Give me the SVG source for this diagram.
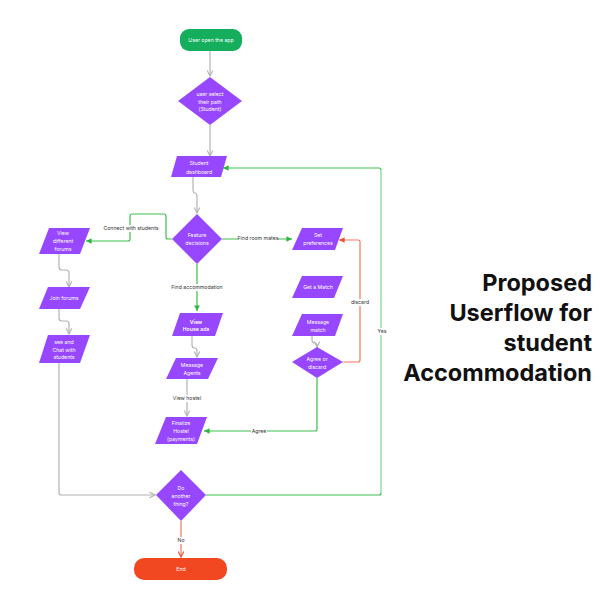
<svg xmlns="http://www.w3.org/2000/svg" width="600" height="600" viewBox="0 0 600 600">
<style>
.n{fill:#9747ff}
.t{font-family:Inter,"Liberation Sans",sans-serif;font-size:5.2px;fill:#ffffff;text-anchor:middle}
.l{font-family:Inter,"Liberation Sans",sans-serif;font-size:5.2px;fill:#333333;text-anchor:middle}
.g{fill:none;stroke:#b3b3b3;stroke-width:1.2}
.gr{fill:none;stroke:#3dbf4a;stroke-width:1.2}
.grl{fill:none;stroke:#7ed889;stroke-width:1.2}
.r{fill:none;stroke:#f2785c;stroke-width:1.2}
.bg{fill:#ffffff}
.title{font-family:Inter,"Liberation Sans",sans-serif;font-size:23.5px;font-weight:700;fill:#111111;text-anchor:end}
</style>
<defs>
<marker id="ag" viewBox="0 0 10 10" refX="9" refY="5" markerWidth="7" markerHeight="7" orient="auto" markerUnits="userSpaceOnUse"><path d="M1,1 L9,5 L1,9" fill="none" stroke="#b3b3b3" stroke-width="1.6"/></marker>
<marker id="agr" viewBox="0 0 10 10" refX="9" refY="5" markerWidth="7" markerHeight="7" orient="auto" markerUnits="userSpaceOnUse"><path d="M1,1 L9,5 L1,9 Z" fill="#2db83d"/></marker>
<marker id="ar" viewBox="0 0 10 10" refX="9" refY="5" markerWidth="7" markerHeight="7" orient="auto" markerUnits="userSpaceOnUse"><path d="M1,1 L9,5 L1,9 Z" fill="#f0502e"/></marker>
<marker id="arc" viewBox="0 0 10 10" refX="9" refY="5" markerWidth="7" markerHeight="7" orient="auto" markerUnits="userSpaceOnUse"><path d="M1,1 L9,5 L1,9" fill="none" stroke="#f0502e" stroke-width="1.6"/></marker>
</defs>

<g id="connectors">
<path class="g" d="M210,51 V76" marker-end="url(#ag)"/>
<path class="g" d="M210,125 V156" marker-end="url(#ag)"/>
<path class="g" d="M193,177 V189 Q193,193 195,193 Q197,193 197,197 V213" marker-end="url(#ag)"/>
<path class="gr" d="M172,239 H168 Q166,239 166,237 V216 Q166,214 164,214 H132 Q130,214 130,216 V239 Q130,241 128,241 H86" marker-end="url(#agr)"/>
<path class="gr" d="M222,239 H292" marker-end="url(#agr)"/>
<path class="gr" d="M197,264 V311" marker-end="url(#agr)"/>
<path class="g" d="M59,254 V267 Q59,270 62,270 H66 Q69,270 69,273 V287" marker-end="url(#ag)"/>
<path class="g" d="M59,309 V318 Q59,321 62,321 H66 Q69,321 69,324 V334" marker-end="url(#ag)"/>
<path class="g" d="M59,363 V493 Q59,495 61,495 H155" marker-end="url(#ag)"/>
<path class="g" d="M192,336 V345 Q192,348 194.5,348 Q197,348 197,351 V357" marker-end="url(#ag)"/>
<path class="g" d="M187,379 V416" marker-end="url(#ag)"/>
<path class="g" d="M312,336 V340 Q312,343 314.5,343 Q317,343 317,346 V347" marker-end="url(#ag)"/>
<path class="gr" d="M317,378 V429 Q317,431 315,431 H204" marker-end="url(#agr)"/>
<path class="r" d="M343,362 H358 Q360,362 360,360 V242 Q360,240 358,240 H339" marker-end="url(#ar)"/>
<path class="gr" d="M206,495 H379 Q381,495 381,493"/>
<path class="grl" d="M381,493 V170"/>
<path class="gr" d="M381,170 Q381,168 379,168 H223" marker-end="url(#agr)"/>
<path class="r" d="M181,521 V557" marker-end="url(#arc)"/>
<rect class="bg" x="105" y="225" width="52" height="7"/>
<text class="l" x="131" y="230">Connect with students</text>
<rect class="bg" x="238" y="235" width="40" height="7"/>
<text class="l" x="258" y="240">Find room mates</text>
<rect class="bg" x="173" y="284" width="48" height="7"/>
<text class="l" x="197" y="289">Find accommodation</text>
<rect class="bg" x="173" y="395" width="28" height="7"/>
<text class="l" x="187" y="400">View hostel</text>
<rect class="bg" x="251" y="428" width="16" height="7"/>
<text class="l" x="259" y="433">Agree</text>
<rect class="bg" x="351" y="299" width="18" height="7"/>
<text class="l" x="360" y="304">discard</text>
<rect class="bg" x="376" y="328" width="11" height="7"/>
<text class="l" x="382" y="333">Yes</text>
<rect class="bg" x="176" y="537" width="10" height="7"/>
<text class="l" x="181" y="542">No</text>
</g>

<g id="start">
<rect x="180" y="29" width="62" height="22" rx="9" fill="#14ae5c"/>
<text class="t" x="211" y="42">User open the app</text>
</g>
<g id="select-path">
<polygon class="n" points="210,77 242,101 210,125 178,101"/>
<text class="t" x="210" y="96">user  select</text>
<text class="t" x="210" y="103.5">their path</text>
<text class="t" x="210" y="111">(Student)</text>
</g>
<g id="student-dashboard">
<polygon class="n" points="177,156 227,156 221,177 171,177"/>
<text class="t" x="199" y="165">Student</text>
<text class="t" x="199" y="174">dashboard</text>
</g>
<g id="feature-decisions">
<polygon class="n" points="197,214 222,239 197,264 172,239"/>
<text class="t" x="197" y="237">Feature</text>
<text class="t" x="197" y="245">decisions</text>
</g>
<g id="view-forums">
<polygon class="n" points="49,228 90,228 80,254 39,254"/>
<text class="t" x="63" y="235">View</text>
<text class="t" x="63" y="243">different</text>
<text class="t" x="63" y="251">forums</text>
</g>
<g id="join-forums">
<polygon class="n" points="48,287 90,287 80,309 39,309"/>
<text class="t" x="64" y="300">Join forums</text>
</g>
<g id="chat-students">
<polygon class="n" points="48,335 90,335 80,363 39,363"/>
<text class="t" x="64" y="344">see and</text>
<text class="t" x="64" y="351.5">Chat with</text>
<text class="t" x="64" y="359">students</text>
</g>
<g id="view-house-ads">
<polygon class="n" points="180,313 223,313 215,336 172,336"/>
<text class="t" x="196" y="324" font-weight="600">View</text>
<text class="t" x="196" y="331" font-weight="600">House ads</text>
</g>
<g id="message-agents">
<polygon class="n" points="176,358 218,358 208,379 166,379"/>
<text class="t" x="192" y="367">Message</text>
<text class="t" x="192" y="375">Agents</text>
</g>
<g id="finalize-hostel">
<polygon class="n" points="166,417 207,417 197,444 155,444"/>
<text class="t" x="181" y="425">Finalize</text>
<text class="t" x="181" y="433">Hostel</text>
<text class="t" x="181" y="440.5">(payments)</text>
</g>
<g id="set-preferences">
<polygon class="n" points="302,228 343,228 335,250 292,250"/>
<text class="t" x="318" y="237">Set</text>
<text class="t" x="318" y="245">preferences</text>
</g>
<g id="get-match">
<polygon class="n" points="302,276 343,276 334,298 292,298"/>
<text class="t" x="318" y="289">Get a Match</text>
</g>
<g id="message-match">
<polygon class="n" points="302,314 343,314 335,336 292,336"/>
<text class="t" x="318" y="324">Message</text>
<text class="t" x="318" y="331.5">match</text>
</g>
<g id="agree-discard">
<polygon class="n" points="317,347 343,362 317,378 292,362"/>
<text class="t" x="317" y="361">Agree or</text>
<text class="t" x="317" y="369">discard</text>
</g>
<g id="another-thing">
<polygon class="n" points="181,470 206,495 181,521 156,495"/>
<text class="t" x="181" y="490">Do</text>
<text class="t" x="181" y="498">another</text>
<text class="t" x="181" y="505.5">thing?</text>
</g>
<g id="end">
<rect x="134" y="558" width="93" height="22" rx="10" fill="#f24822"/>
<text class="t" x="181" y="571">End</text>
</g>
<g id="title">
<text class="title" x="592" y="291">Proposed</text>
<text class="title" x="592" y="321">Userflow for</text>
<text class="title" x="592" y="351">student</text>
<text class="title" x="592" y="381">Accommodation</text>
</g>
</svg>
